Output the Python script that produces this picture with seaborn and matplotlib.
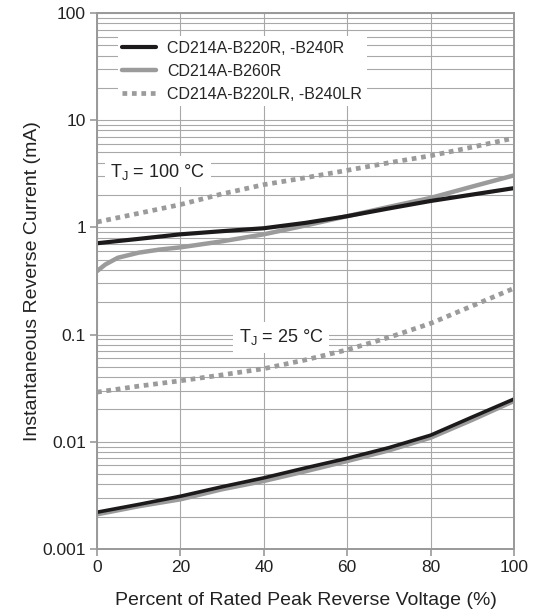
import numpy as np
import pandas as pd
import matplotlib
matplotlib.use("Agg")
import matplotlib.pyplot as plt
from matplotlib.ticker import LogLocator, FixedLocator, FixedFormatter
import seaborn as sns

# percent of rated peak reverse voltage
pct = [0, 10, 20, 30, 40, 50, 60, 70, 80, 90, 100]
pct_fine = [0, 2, 5, 10, 15, 20, 30, 40, 50, 60, 70, 80, 90, 100]

# Tj = 100 C curves (mA)
b220r_100 = [0.71, 0.78, 0.86, 0.92, 0.98, 1.10, 1.27, 1.50, 1.76, 2.02, 2.32]
b260r_100 = [0.39, 0.45, 0.52, 0.58, 0.62, 0.65, 0.74, 0.86, 1.04, 1.27, 1.55, 1.88, 2.40, 3.05]
b220lr_100 = [1.12, 1.35, 1.63, 2.05, 2.50, 2.90, 3.40, 4.00, 4.65, 5.60, 6.80]

# Tj = 25 C curves (mA)
b220r_25 = [0.0022, 0.0026, 0.0031, 0.0038, 0.0046, 0.0057, 0.0070, 0.0088, 0.0115, 0.0170, 0.0250]
b260r_25 = [0.0021, 0.0025, 0.0029, 0.0036, 0.0043, 0.0053, 0.0066, 0.0083, 0.0109, 0.0160, 0.0240]
b220lr_25 = [0.029, 0.033, 0.037, 0.042, 0.048, 0.058, 0.072, 0.094, 0.127, 0.185, 0.270]

series_names = ["CD214A-B220R, -B240R", "CD214A-B260R", "CD214A-B220LR, -B240LR"]
y_ticks = [0.001, 0.01, 0.1, 1, 10, 100]
y_tick_labels = ["0.001", "0.01", "0.1", "1", "10", "100"]
x_ticks = [0, 20, 40, 60, 80, 100]

sns.set_style("white")
plt.rcParams["font.family"] = ["Liberation Sans", "DejaVu Sans"]

fig = plt.figure(figsize=(5.36, 6.14), dpi=100)
ax = fig.add_axes([0.181, 0.106, 0.778, 0.873])

black = "#1c1a1b"
grey = "#9b9b9b"

# draw order: gray under black
sns.lineplot(x=pct_fine, y=b260r_100, ax=ax, color=grey, lw=3.2, label=series_names[1])
sns.lineplot(x=pct, y=b260r_25, ax=ax, color=grey, lw=3.2)
sns.lineplot(x=pct, y=b220r_100, ax=ax, color=black, lw=3.0, label=series_names[0])
sns.lineplot(x=pct, y=b220r_25, ax=ax, color=black, lw=2.6)
sns.lineplot(x=pct, y=b220lr_100, ax=ax, color=grey, lw=3.4, label=series_names[2])
sns.lineplot(x=pct, y=b220lr_25, ax=ax, color=grey, lw=3.4)
for ln in ax.lines[4:]:
    ln.set_dashes((1.0, 1.0))

ax.set_yscale("log")
ax.set_xlim(0, 100)
ax.set_ylim(0.001, 100)

ax.yaxis.set_major_locator(FixedLocator(y_ticks))
ax.yaxis.set_major_formatter(FixedFormatter(y_tick_labels))
ax.yaxis.set_minor_locator(LogLocator(base=10, subs=np.arange(2, 10)))
ax.yaxis.set_minor_formatter(plt.NullFormatter())
ax.set_xticks(x_ticks)

ax.grid(True, which="both", axis="y", color="#a8a8a8", lw=0.8)
ax.grid(True, which="major", axis="x", color="#a8a8a8", lw=0.8)
ax.set_axisbelow(True)

for sp in ax.spines.values():
    sp.set_color("#999999")
    sp.set_linewidth(1.4)

ax.tick_params(axis="both", which="major", direction="out", length=5, width=1.2,
               color="#999999", labelsize=12.5, labelcolor="#222222", left=True, bottom=True, pad=3)
ax.tick_params(axis="y", which="minor", length=0)

ax.set_xlabel("Percent of Rated Peak Reverse Voltage (%)", fontsize=14, color="#222222", labelpad=12)
ax.set_ylabel("Instantaneous Reverse Current (mA)", fontsize=14, color="#222222", labelpad=1)

# legend order like the reference
handles, labels = ax.get_legend_handles_labels()
order = [labels.index(n) for n in series_names]
leg = ax.legend([handles[i] for i in order], [labels[i] for i in order],
                loc="upper left", bbox_to_anchor=(0.03, 0.972), fontsize=11.5,
                frameon=True, framealpha=1, facecolor="white", edgecolor="none",
                handlelength=2.1, handletextpad=0.7, labelspacing=0.5,
                borderpad=0.3, fancybox=False)
leg.get_frame().set_linewidth(0)

box = dict(facecolor="white", edgecolor="none", pad=4)
ax.text(3.2, 3.3, r"T$_\mathregular{J}$ = 100 °C", fontsize=13, color="#222222",
        va="center", ha="left", bbox=box)
ax.text(34, 0.094, r"T$_\mathregular{J}$ = 25 °C", fontsize=13, color="#222222",
        va="center", ha="left", bbox=box)

fig.savefig("out.png", dpi=100)
